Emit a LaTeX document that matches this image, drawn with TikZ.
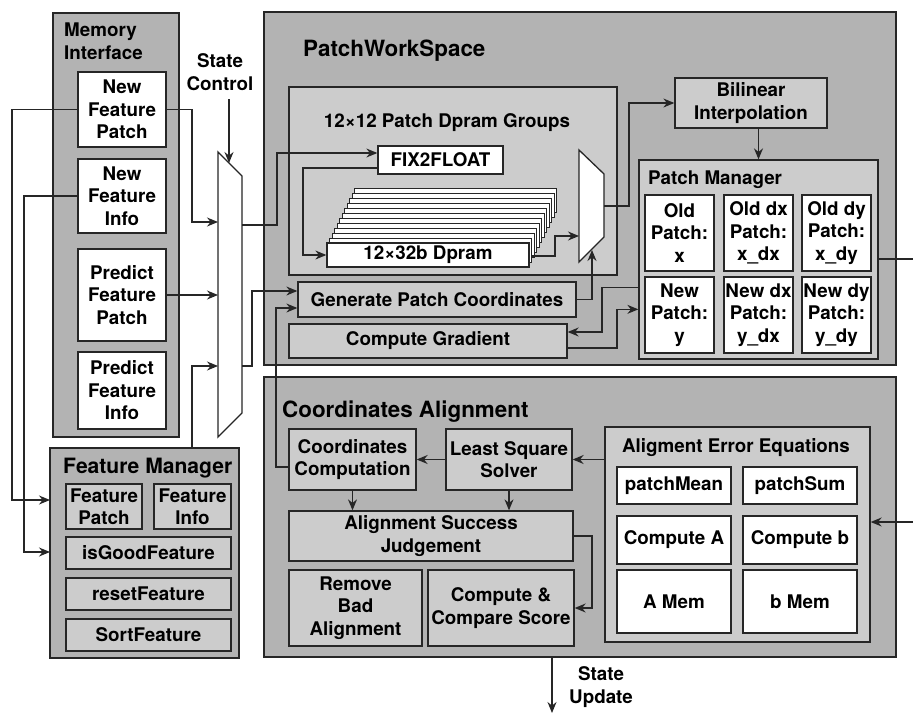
\documentclass[tikz,border=0pt]{standalone}
\usepackage{fontspec}
\setmainfont{TeX Gyre Heros}
\usetikzlibrary{arrows.meta,calc}
\definecolor{darkfill}{RGB}{179,179,179}
\definecolor{lightfill}{RGB}{204,204,204}
\definecolor{edge}{RGB}{38,38,38}
\newcommand{\bodyfont}{\fontsize{18.8}{22.5}\selectfont\bfseries}
\newcommand{\titlefont}{\fontsize{22.4}{26}\selectfont\bfseries}
% \blk{style}{name}{x1}{y1}{x2}{y2}{text}: a block spanning two corners
\newcommand{\blk}[7]{%
  \pgfmathsetmacro{\bw}{#5-#3}\pgfmathsetmacro{\bh}{#6-#4}%
  \pgfmathsetmacro{\bcx}{(#3+#5)/2}\pgfmathsetmacro{\bcy}{(#4+#6)/2}%
  \node[#1, minimum width=\bw pt, minimum height=\bh pt] (#2) at (\bcx,\bcy) {#7};}
\tikzset{
  boxbase/.style={draw=edge, line width=1.3pt, inner sep=0pt, align=center, font=\bodyfont},
  dbox/.style={boxbase, fill=darkfill},
  lbox/.style={boxbase, fill=lightfill},
  wbox/.style={boxbase, fill=white},
  wire/.style={draw=edge, line width=1.3pt},
  arr/.style={wire, -{Stealth[length=11pt,width=9pt]}},
  lbl/.style={inner sep=0pt, align=center, font=\bodyfont},
  ttl/.style={inner sep=0pt, font=\titlefont},
}
\begin{document}
\begin{tikzpicture}[x=1pt,y=-1pt]
\useasboundingbox (0,0) rectangle (913,717);

% ---------- outer blocks ----------
\blk{dbox}{mi}{53}{13}{179}{437}{}
\blk{dbox}{pws}{264}{12}{896}{365}{}
\blk{dbox}{ca}{264}{377}{896}{657}{}
\blk{dbox}{fm}{50}{448}{239}{658}{}

\node[lbl, align=left, anchor=west] (mit) at (64,41) {Memory\\Interface};
\node[ttl, anchor=base west] (pwst) at (303,57) {PatchWorkSpace};
\node[ttl, anchor=base west] (cat) at (282,417) {Coordinates Alignment};
\node[ttl, anchor=base west, font=\fontsize{21.1}{25}\selectfont\bfseries] (fmt) at (63,473) {Feature Manager};

% ---------- memory interface ----------
\blk{wbox}{nfp}{78}{72}{166}{147}{New\\Feature\\Patch}
\blk{wbox}{nfi}{78}{159}{166}{233}{New\\Feature\\Info}
\blk{wbox}{pfp}{78}{249}{166}{341}{Predict\\Feature\\Patch}
\blk{wbox}{pfi}{78}{352}{166}{429}{Predict\\Feature\\Info}

% ---------- feature manager ----------
\blk{lbox}{fp}{66}{484}{142}{529}{Feature\\Patch}
\blk{lbox}{fi}{154}{484}{231}{529}{Feature\\Info}
\blk{lbox}{igf}{66}{537}{231}{569}{isGoodFeature}
\blk{lbox}{rf}{66}{578}{231}{610}{resetFeature}
\blk{lbox}{sf}{66}{619}{231}{651}{SortFeature}

% ---------- state control multiplexer ----------
\node[lbl] (sc) at (220,72) {State\\Control};
\draw[wire, fill=white] (218,152) -- (242,176) -- (242,413) -- (218,437) -- cycle;
\coordinate (m1i1) at (218,222);
\coordinate (m1i3) at (218,366);
\coordinate (m1sel) at (229,163);
\coordinate (m1o1) at (242,225);
\coordinate (m1o2) at (242,366);

% ---------- patch dpram groups ----------
\blk{lbox}{grp}{289}{87}{617}{275}{}
\node[lbl, anchor=base] (grpt) at (447,127) {12×12 Patch Dpram Groups};
\blk{wbox}{f2f}{378}{146}{503}{174}{FIX2FLOAT}
\foreach \k in {11,...,1}
  \draw[draw=edge, line width=1pt, fill=white]
    ({327+2.5*\k},{243-5*\k}) rectangle ({529+2.5*\k},{267-5*\k});
\blk{wbox}{dp}{327}{243}{529}{267}{12×32b Dpram}
\draw[wire, fill=white] (579,150) -- (604,174) -- (604,237) -- (579,262) -- cycle;
\coordinate (m2i) at (579,236);
\coordinate (m2sel) at (592,250);
\coordinate (m2o) at (604,206);

% ---------- patch workspace blocks ----------
\blk{lbox}{bil}{675}{78}{827}{128}{Bilinear\\Interpolation}
\blk{lbox}{pm}{639}{160}{878}{359}{}
\node[lbl, anchor=base west] (pmt) at (648,184) {Patch Manager};
\blk{wbox}{op}{645}{195}{714}{271}{Old\\Patch:\\x}
\blk{wbox}{odx}{724}{195}{793}{271}{Old dx\\Patch:\\x\_dx}
\blk{wbox}{ody}{802}{195}{871}{271}{Old dy\\Patch:\\x\_dy}
\blk{wbox}{np}{645}{277}{714}{353}{New\\Patch:\\y}
\blk{wbox}{ndx}{724}{277}{793}{353}{New dx\\Patch:\\y\_dx}
\blk{wbox}{ndy}{802}{277}{871}{353}{New dy\\Patch:\\y\_dy}
\blk{lbox}{gpc}{298}{282}{576}{317}{Generate Patch Coordinates}
\blk{lbox}{cg}{289}{324}{567}{358}{Compute Gradient}

% ---------- coordinates alignment blocks ----------
\blk{lbox}{cc}{289}{429}{416}{490}{Coordinates\\Computation}
\blk{lbox}{lss}{446}{429}{572}{490}{Least Square\\Solver}
\blk{lbox}{asj}{289}{511}{573}{561}{Alignment Success\\Judgement}
\blk{lbox}{rba}{289}{570}{422}{646}{Remove\\Bad\\Alignment}
\blk{lbox}{ccs}{428}{570}{574}{646}{Compute \&\\Compare Score}
\blk{lbox}{aee}{605}{427}{870}{642}{}
\node[lbl, anchor=base] (aeet) at (736,452) {Aligment Error Equations};
\blk{wbox}{pmean}{617}{467}{731}{504}{patchMean}
\blk{wbox}{psum}{743}{467}{857}{504}{patchSum}
\blk{wbox}{cpa}{617}{516}{731}{564}{Compute A}
\blk{wbox}{cpb}{743}{516}{857}{564}{Compute b}
\blk{wbox}{amem}{617}{570}{731}{633}{A Mem}
\blk{wbox}{bmem}{743}{570}{857}{633}{b Mem}

\node[lbl] (su) at (601,687) {State\\Update};

% ---------- helper points for connectors ----------
\coordinate (bus1) at (12,500);
\coordinate (fmin1) at (50,500);
\coordinate (bus2) at (24,552);
\coordinate (fmin2) at (50,552);
\coordinate (bus3) at (192,222);
\coordinate (fmtop) at (192,448);
\coordinate (scfrom) at (229,99);
\coordinate (jog1) at (277,153);
\coordinate (jog2) at (303,200);
\coordinate (jog3) at (555,246);
\coordinate (jog4) at (629,150);
\coordinate (jog5) at (602,310);
\coordinate (jog6) at (617,330);
\coordinate (jog7) at (276,400);
\coordinate (jog8) at (252,330);
\coordinate (jog9) at (592,570);
\coordinate (rt1) at (913,259);
\coordinate (rt2) at (913,522);
\coordinate (sout) at (552,713);

% ---------- connectors ----------
\draw[arr] (nfp.west) -| (bus1) -- (fmin1);
\draw[arr] (nfi.west) -| (bus2) -- (fmin2);
\draw[arr] (nfp.east) -| (bus3) -- (m1i1);
\draw[arr] (pfp.east) -- (pfp.east -| m1i1);
\draw[arr] (fmtop) |- (m1i3);
\draw[arr] (scfrom) -- (m1sel);

\draw[arr] (m1o1) -| (jog1) -- ($(f2f.west)+(0,-7)$);
\draw[arr] ($(f2f.west)+(0,8)$) -| (jog2) |- (dp.west);
\draw[arr] ($(dp.east)+(2.5,1)$) -| (jog3) |- (m2i);
\draw[arr] (m2o) -| (jog4) |- (bil.west);
\draw[arr] (pm.north |- bil.south) -- (pm.north);
\draw[wire] (pm.east |- rt1) -- (rt1);
\draw[arr] (gpc.east) -| (m2sel);
\draw[arr] ($(pm.north west)+(0,128)$) -| (jog5) |- ($(cg.east)+(0,-9)$);
\draw[arr] ($(cg.east)+(0,7)$) -| (jog6) |- ($(pm.north west)+(0,150)$);
\draw[arr] ($(cc.west)+(0,7.5)$) -| (jog7) |- ($(gpc.west)+(0,8.5)$);
\draw[arr] (m1o2) -| (jog8) |- ($(gpc.west)+(0,-8.5)$);

\draw[arr] (lss.west) -- (cc.east);
\draw[arr] (cc.south) -- (cc.south |- asj.north);
\draw[arr] (lss.south) -- (lss.south |- asj.north);
\draw[arr] (asj.east) -| (jog9) |- (ccs.east);
\draw[arr] (aee.west |- lss.east) -- (lss.east);
\draw[arr] (rt2) -- (aee.east |- rt2);
\draw[arr] (sout |- ca.south) -- (sout);
\end{tikzpicture}
\end{document}
